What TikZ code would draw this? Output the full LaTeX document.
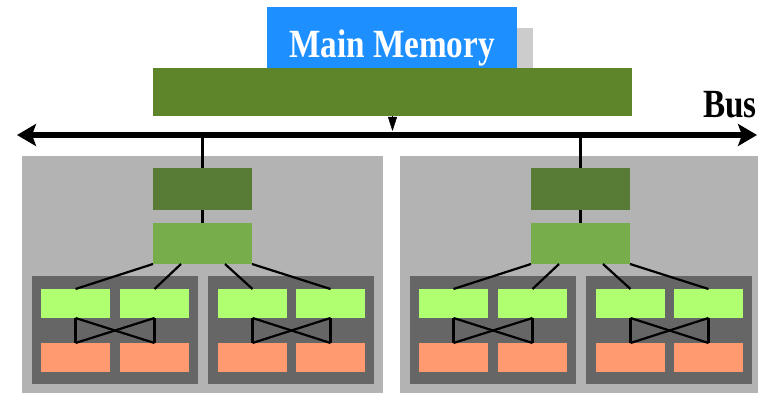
\documentclass[tikz,border=0pt]{standalone}
\usepackage{fontspec}
\usetikzlibrary{arrows.meta}
\newfontfamily\diagfont[FakeStretch=0.83]{Liberation Serif}
\definecolor{memblue}{HTML}{1E8FFF}
\definecolor{shadowgray}{HTML}{CCCCCC}
\definecolor{ctrlgreen}{HTML}{5E8529}
\definecolor{darkgreen}{HTML}{587C36}
\definecolor{lightgreen}{HTML}{78AD4C}
\definecolor{limegreen}{HTML}{B0FF70}
\definecolor{salmon}{HTML}{FF9970}
\definecolor{clustergray}{HTML}{B3B3B3}
\definecolor{groupgray}{HTML}{666666}
\begin{document}
\begin{tikzpicture}[x=1pt, y=-1pt,
    box/.style={rectangle, inner sep=0pt, outer sep=0pt, anchor=north west},
    cluster/.style={box, fill=clustergray, minimum width=361pt, minimum height=250pt},
    darkbox/.style={box, fill=darkgreen, minimum width=99pt, minimum height=42pt},
    lightbox/.style={box, fill=lightgreen, minimum width=99pt, minimum height=41pt},
    group/.style={box, fill=groupgray, minimum width=166pt, minimum height=108pt},
    upper/.style={box, fill=limegreen, minimum width=69pt, minimum height=29pt},
    lower/.style={box, fill=salmon, minimum width=69pt, minimum height=29pt},
    wire/.style={line width=2.2pt, black},
    bigtext/.style={inner sep=0pt, anchor=base, font=\diagfont\fontsize{40}{40}\selectfont\bfseries}]

    \useasboundingbox (0,0) rectangle (758,393);
    \clip (0,0) rectangle (758,393);

    % memory and controller
    \node (shadow) at (283,28) [box, fill=shadowgray, minimum width=250pt, minimum height=40pt] {};
    \node (mem) at (267,7) [box, fill=memblue, minimum width=250pt, minimum height=70pt] {};
    \node (memtxt) at (392,58) [bigtext, text=white] {Main Memory};
    \node (ctrl) at (153,68) [box, fill=ctrlgreen, minimum width=479pt, minimum height=48pt] {};

    % bus
    \coordinate (busL) at (17,135);
    \coordinate (busR) at (757,135);
    \coordinate (dock) at (392.5,131);
    \draw[line width=6pt, {Stealth[length=19pt, width=22pt, inset=4pt]}-{Stealth[length=19pt, width=22pt, inset=4pt]}] (busL) -- (busR);
    \node (buslabel) at (730,118) [bigtext] {Bus};
    \draw[-{Triangle[width=9pt, length=14pt]}] (ctrl.south) -- (dock);

    % left cluster
    \node (1-cl) at (22,156) [cluster] {};
    \node (1-dark) at (153,168) [darkbox] {};
    \node (1-light) at (153,223) [lightbox] {};
    \node (1-g1) at (32,276) [group] {};
    \node (1-g2) at (208,276) [group] {};

    \node (1-u1) at (41,289) [upper] {};
    \node (1-u2) at (120,289) [upper] {};
    \node (1-u3) at (218,289) [upper] {};
    \node (1-u4) at (296,289) [upper] {};

    \node (1-d1) at (41,343) [lower] {};
    \node (1-d2) at (120,343) [lower] {};
    \node (1-d3) at (218,343) [lower] {};
    \node (1-d4) at (296,343) [lower] {};

    % right cluster
    \node (2-cl) at (400,156) [cluster] {};
    \node (2-dark) at (531,168) [darkbox] {};
    \node (2-light) at (531,223) [lightbox] {};
    \node (2-g1) at (410,276) [group] {};
    \node (2-g2) at (586,276) [group] {};

    \node (2-u1) at (419,289) [upper] {};
    \node (2-u2) at (498,289) [upper] {};
    \node (2-u3) at (596,289) [upper] {};
    \node (2-u4) at (674,289) [upper] {};

    \node (2-d1) at (419,343) [lower] {};
    \node (2-d2) at (498,343) [lower] {};
    \node (2-d3) at (596,343) [lower] {};
    \node (2-d4) at (674,343) [lower] {};

    % left wires
    \draw[wire] (1-dark.north) -- (1-dark.north |- busL);
    \draw[wire] (1-dark.south) -- (1-light.north);

    \draw[wire] (1-light.south west) -- (1-u1.north);
    \draw[wire] ([xshift=28pt]1-light.south west) -- (1-u2.north);
    \draw[wire] ([xshift=-27pt]1-light.south east) -- (1-u3.north);
    \draw[wire] (1-light.south east) -- (1-u4.north);

    \draw[wire] (1-u1.south) -- (1-d1.north);
    \draw[wire] (1-u2.south) -- (1-d2.north);
    \draw[wire] (1-u1.south) -- (1-d2.north);
    \draw[wire] (1-u2.south) -- (1-d1.north);

    \draw[wire] (1-u3.south) -- (1-d3.north);
    \draw[wire] (1-u4.south) -- (1-d4.north);
    \draw[wire] (1-u3.south) -- (1-d4.north);
    \draw[wire] (1-u4.south) -- (1-d3.north);

    % right wires
    \draw[wire] (2-dark.north) -- (2-dark.north |- busL);
    \draw[wire] (2-dark.south) -- (2-light.north);

    \draw[wire] (2-light.south west) -- (2-u1.north);
    \draw[wire] ([xshift=28pt]2-light.south west) -- (2-u2.north);
    \draw[wire] ([xshift=-27pt]2-light.south east) -- (2-u3.north);
    \draw[wire] (2-light.south east) -- (2-u4.north);

    \draw[wire] (2-u1.south) -- (2-d1.north);
    \draw[wire] (2-u2.south) -- (2-d2.north);
    \draw[wire] (2-u1.south) -- (2-d2.north);
    \draw[wire] (2-u2.south) -- (2-d1.north);

    \draw[wire] (2-u3.south) -- (2-d3.north);
    \draw[wire] (2-u4.south) -- (2-d4.north);
    \draw[wire] (2-u3.south) -- (2-d4.north);
    \draw[wire] (2-u4.south) -- (2-d3.north);

\end{tikzpicture}
\end{document}
